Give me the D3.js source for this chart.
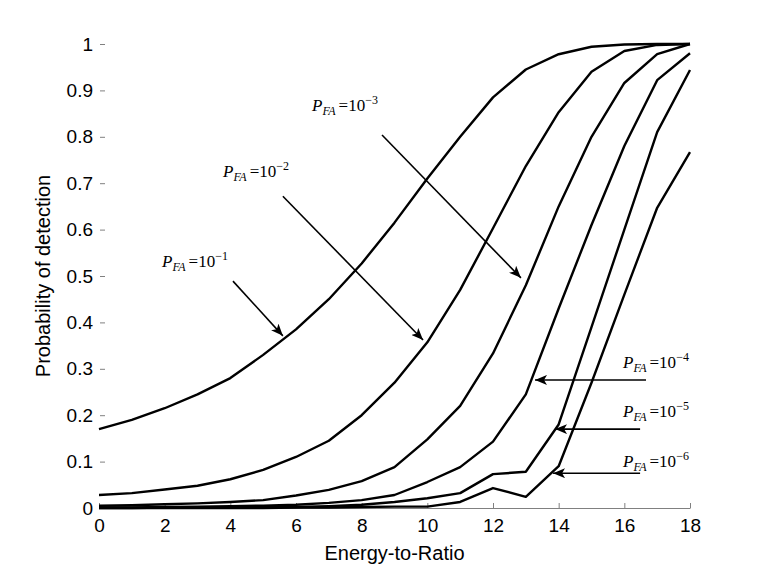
<!DOCTYPE html>
<html>
<head>
<meta charset="utf-8">
<script src="https://cdn.jsdelivr.net/npm/d3@7"></script>
<style>
  html, body { margin: 0; padding: 0; background: #fff; }
  svg { display: block; }
</style>
</head>
<body>
<svg id="chart" width="763" height="572"></svg>
<script>
// ---- data ----
const snr = [0,1,2,3,4,5,6,7,8,9,10,11,12,13,14,15,16,17,18];
const pd_1e1 = [0.17,0.19,0.215,0.245,0.28,0.33,0.385,0.45,0.527,0.615,0.71,0.80,0.885,0.945,0.978,0.994,0.999,1.0,1.0];
const pd_1e2 = [0.028,0.032,0.04,0.048,0.062,0.082,0.11,0.145,0.2,0.27,0.357,0.47,0.603,0.737,0.853,0.94,0.985,0.998,1.0];
const pd_1e3 = [0.005,0.006,0.008,0.01,0.013,0.017,0.027,0.039,0.058,0.088,0.148,0.22,0.333,0.48,0.65,0.80,0.916,0.978,1.0];
const pd_1e4 = [0.001,0.001,0.002,0.003,0.004,0.005,0.007,0.011,0.017,0.028,0.056,0.088,0.143,0.245,0.43,0.61,0.78,0.922,0.98];
const pd_1e5 = [0.0,0.0,0.001,0.001,0.001,0.002,0.002,0.004,0.007,0.013,0.021,0.032,0.073,0.078,0.18,0.39,0.60,0.81,0.944];
const pd_1e6 = [0.0,0.0,0.0,0.0,0.0,0.0,0.001,0.001,0.002,0.003,0.003,0.013,0.043,0.024,0.09,0.27,0.46,0.647,0.767];
const seriesList = [pd_1e1, pd_1e2, pd_1e3, pd_1e4, pd_1e5, pd_1e6];
const xTicks = [0,2,4,6,8,10,12,14,16,18];
const yTicks = [0,0.1,0.2,0.3,0.4,0.5,0.6,0.7,0.8,0.9,1];
const xTitle = "Energy-to-Ratio";
const yTitle = "Probability of detection";
// annotation labels: exponent, text anchor (data coords), arrow start, arrow tip (data coords)
const annExp = ["\u22121","\u22122","\u22123","\u22124","\u22125","\u22126"];
const annText = [[1.92,0.519],[3.78,0.713],[6.49,0.855],[15.96,0.302],[15.96,0.196],[15.96,0.088]];
const annFrom = [[4.08,0.489],[5.60,0.672],[8.62,0.804],[16.66,0.276],[16.48,0.170],[16.48,0.075]];
const annTo   = [[5.60,0.371],[9.87,0.362],[12.85,0.496],[13.28,0.276],[13.89,0.170],[13.83,0.075]];

// ---- layout ----
const svg = d3.select("#chart");
const x = d3.scaleLinear().domain([0,18]).range([99,690]);
const y = d3.scaleLinear().domain([0,1]).range([508,44]);
const sans = "'Liberation Sans', Arial, sans-serif";
const serif = "'Liberation Serif', 'Times New Roman', serif";

// x axis
const gx = svg.append("g").attr("transform", `translate(0,${y(0)})`)
  .call(d3.axisBottom(x).tickValues(xTicks).tickFormat(d3.format("d"))
        .tickSize(-5).tickSizeOuter(0).tickPadding(11));
gx.select(".domain").attr("stroke", "#808080");
gx.selectAll(".tick line").attr("stroke", "#808080");
gx.selectAll(".tick text").attr("font-family", sans).attr("font-size", 19).attr("fill", "#000");

// y axis
const gy = svg.append("g").attr("transform", `translate(${x(0)},0)`)
  .call(d3.axisLeft(y).tickValues(yTicks).tickFormat(d => d3.format("")(+d.toFixed(1)))
        .tickSize(-5).tickSizeOuter(0).tickPadding(6));
gy.select(".domain").remove();
gy.selectAll(".tick line").attr("stroke", "#808080").attr("transform", "translate(1,0)");
gy.selectAll(".tick text").attr("font-family", sans).attr("font-size", 19).attr("fill", "#000");

// titles
svg.append("text").attr("x", (x(0)+x(18))/2).attr("y", 560)
  .attr("text-anchor", "middle").attr("font-family", sans).attr("font-size", 20)
  .text(xTitle);
svg.append("text").attr("transform", `translate(50,${y(0.5)}) rotate(-90)`)
  .attr("text-anchor", "middle").attr("font-family", sans).attr("font-size", 20)
  .text(yTitle);

// curves
const line = d3.line().x((d,i) => x(snr[i])).y(d => y(d));
svg.append("g").selectAll("path").data(seriesList).join("path")
  .attr("d", line).attr("fill", "none").attr("stroke", "#000")
  .attr("stroke-width", 2.4).attr("stroke-linejoin", "round");

// arrow marker
svg.append("defs").append("marker")
  .attr("id", "arrow").attr("markerUnits", "userSpaceOnUse")
  .attr("viewBox", "0 0 12 10").attr("refX", 12).attr("refY", 5)
  .attr("markerWidth", 12).attr("markerHeight", 10).attr("orient", "auto")
  .append("path").attr("d", "M0,0 L12,5 L0,10 L3,5 Z").attr("fill", "#000");

const ann = svg.append("g");
annExp.forEach((e, i) => {
  ann.append("line")
    .attr("x1", x(annFrom[i][0])).attr("y1", y(annFrom[i][1]))
    .attr("x2", x(annTo[i][0])).attr("y2", y(annTo[i][1]))
    .attr("stroke", "#000").attr("stroke-width", 1.6).attr("marker-end", "url(#arrow)");
  const t = ann.append("text").attr("x", x(annText[i][0])).attr("y", y(annText[i][1]))
    .attr("font-family", serif).attr("font-size", 17).attr("fill", "#000");
  t.append("tspan").attr("font-style", "italic").text("P");
  t.append("tspan").attr("font-style", "italic").attr("font-size", 12).attr("dy", 4).text("FA");
  t.append("tspan").attr("dy", -4).attr("dx", 3).text("=10");
  t.append("tspan").attr("font-size", 12).attr("dy", -7).text(e);
});
</script>
</body>
</html>
